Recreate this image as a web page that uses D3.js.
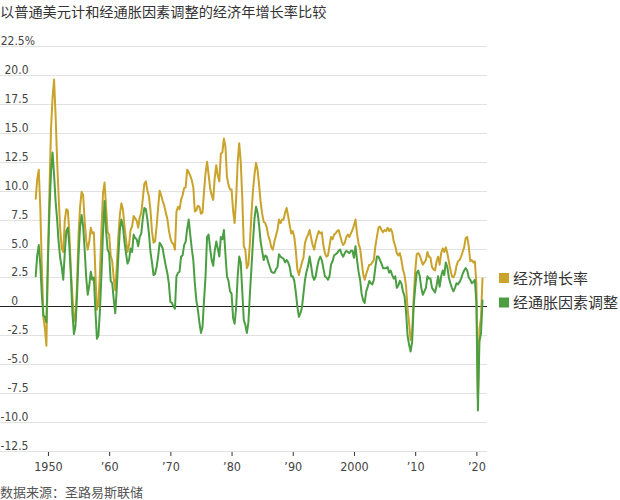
<!DOCTYPE html>
<html><head><meta charset="utf-8">
<script src="https://cdn.jsdelivr.net/npm/d3@7"></script>
<style>body{margin:0;background:#fff}</style>
</head><body><svg id="c" width="620" height="500"></svg>
<script>
const startYear = 1948;
// Year-over-year growth of nominal GDP, quarterly, 1948Q1 .. 2021Q1
const nominalGrowth = [
 9.3, 11.0, 11.8, 8.5,   3.5, -0.9, -1.9, -3.4,   4.3, 10.0, 15.3, 18.0,  19.6, 16.5, 12.6, 9.5,
 6.7, 5.0, 4.7, 7.4,     8.4, 8.3, 6.3, 3.1,      0.9, -1.3, -0.8, 1.8,   6.2, 8.6, 9.9, 9.6,
 7.4, 5.7, 4.9, 5.6,     6.8, 6.3, 6.4, 2.9,      -0.3, 0.3, 2.9, 6.8,    9.8, 10.7, 8.6, 6.4,
 6.2, 4.4, 3.9, 2.4,     1.4, 3.5, 6.0, 7.9,      8.9, 8.4, 7.0, 5.8,     4.7, 5.3, 6.6, 6.9,
 7.8, 7.6, 7.4, 6.8,     7.7, 8.1, 9.3, 10.6,     10.8, 10.0, 9.5, 8.3,   6.5, 5.5, 5.6, 6.9,
 8.5, 10.0, 9.6, 9.1,    8.7, 8.1, 7.6, 6.6,      5.9, 5.5, 5.4, 4.9,     8.2, 8.6, 8.4, 9.2,
 9.6, 10.2, 10.3, 11.8,  11.6, 11.3, 10.9, 10.3,  8.2, 8.3, 8.7, 8.6,     8.0, 8.1, 9.9, 11.5,
 12.5, 11.4, 10.2, 9.6,  9.2, 11.1, 12.2, 11.3,   10.8, 13.2, 13.3, 14.5, 13.8, 11.2, 10.5, 10.1,
 10.1, 8.3, 7.2, 9.3,    12.5, 14.1, 12.5, 9.4,   5.2, 4.9, 3.3, 3.6,     5.5, 8.0, 10.0, 11.4,
 12.4, 11.8, 10.5, 9.0,  8.0, 7.3, 7.2, 6.8,      6.1, 5.7, 5.1, 4.9,     5.6, 6.1, 6.6, 7.5,
 7.2, 7.5, 7.5, 8.1,     8.5, 7.8, 7.0, 6.3,      6.5, 6.0, 4.8, 3.2,     2.7, 3.3, 3.8, 4.2,
 5.5, 5.9, 6.2, 6.6,     5.9, 5.3, 4.9, 5.6,      6.1, 6.5, 6.3, 6.4,     5.3, 4.6, 4.3, 4.4,
 5.2, 6.0, 5.8, 6.2,     6.3, 6.5, 6.6, 6.1,      5.6, 5.3, 5.5, 6.0,     6.2, 6.0, 6.3, 6.6,
 7.0, 7.5, 6.3, 5.4,     5.0, 3.9, 2.8, 2.3,      2.8, 3.2, 3.6, 3.6,     3.8, 4.0, 5.2, 6.0,
 6.8, 6.9, 6.6, 6.4,     6.6, 6.5, 6.8, 6.5,      6.7, 6.4, 5.6, 5.2,     4.6, 4.4, 4.6, 4.0,
 3.2, 2.7, 1.8, -0.1,    -1.4, -2.9, -2.3, 0.6,   3.0, 4.5, 4.6, 4.4,     4.0, 3.6, 3.8, 4.0,
 4.7, 4.3, 4.2, 3.4,     3.2, 3.1, 3.9, 4.3,      3.6, 4.6, 5.0, 4.7,     5.1, 4.6, 3.9, 3.2,
 2.6, 2.5, 2.8, 3.5,     3.9, 4.0, 4.3, 4.7,      5.1, 5.9, 6.0, 5.2,     3.9, 4.0, 3.8, 3.9,
 2.0, -8.0, -2.0, -1.0,  2.4
];
// Year-over-year growth of real (inflation-adjusted) GDP, quarterly, 1948Q1 .. 2021Q1
const realGrowth = [
 2.6, 4.4, 5.3, 3.6,     1.0, -0.8, -0.9, -1.4,   3.9, 8.4, 11.6, 13.3,   11.4, 9.1, 7.5, 5.5,
 4.2, 3.4, 2.3, 4.6,     6.5, 6.8, 5.2, 2.6,      -0.6, -2.4, -1.7, 0.9,  4.4, 6.9, 7.9, 6.9,
 4.9, 2.5, 1.0, 1.8,     3.0, 2.3, 2.5, -0.3,     -2.8, -2.5, -0.3, 2.8,  6.5, 9.1, 6.5, 4.9,
 4.6, 2.2, 2.0, 0.6,     -0.6, 1.6, 4.3, 6.6,     7.5, 6.9, 5.6, 4.6,     3.7, 4.0, 5.0, 4.7,
 6.2, 5.9, 5.8, 5.2,     6.0, 6.3, 7.6, 8.5,      8.4, 7.5, 6.3, 4.7,     3.8, 2.7, 2.8, 3.4,
 4.3, 5.5, 5.3, 5.0,     4.2, 3.5, 2.9, 2.0,      0.4, 0.3, 0.0, -0.2,    2.6, 2.9, 3.0, 4.3,
 4.4, 5.3, 5.6, 6.7,     7.5, 6.2, 5.0, 4.0,      2.0, 0.5, -0.3, -1.4,   -2.3, -1.8, 0.5, 2.6,
 6.0, 6.2, 5.0, 4.0,     3.5, 4.8, 5.6, 5.0,      4.3, 6.0, 5.8, 6.6,     4.5, 2.6, 2.2, 1.3,
 1.1, -1.0, -1.5, -0.1,  2.6, 4.3, 3.8, 1.3,      -1.2, -1.6, -2.3, -1.4, 1.1, 3.3, 5.6, 7.6,
 8.6, 8.1, 7.0, 5.6,     4.8, 4.0, 4.4, 4.3,      3.8, 3.4, 3.0, 2.9,     2.9, 3.2, 3.4, 4.5,
 4.3, 4.2, 4.1, 3.8,     4.0, 3.8, 3.4, 2.6,      2.6, 2.2, 1.2, 0.0,     -0.9, -0.6, -0.1, 1.1,
 2.3, 3.0, 3.5, 4.3,     3.5, 2.6, 2.3, 2.6,      3.4, 4.0, 4.3, 4.0,     3.3, 2.6, 2.5, 2.3,
 2.6, 3.6, 3.9, 4.4,     4.5, 4.6, 4.8, 4.9,      4.5, 4.3, 4.6, 4.8,     4.7, 4.6, 4.8, 4.8,
 4.2, 5.2, 4.0, 3.0,     2.3, 1.1, 0.5, 0.3,      1.3, 1.7, 2.2, 2.0,     1.9, 2.3, 3.4, 4.3,
 4.3, 4.0, 3.7, 3.3,     3.3, 3.3, 3.4, 2.9,      3.1, 2.7, 2.4, 2.6,     1.6, 1.8, 2.2, 2.0,
 1.3, 0.9, -0.4, -2.5,   -3.3, -3.9, -3.1, 0.0,   1.6, 2.9, 3.1, 2.6,     1.6, 1.0, 1.3, 1.6,
 2.6, 2.4, 2.4, 1.6,     1.4, 1.2, 1.8, 2.6,      1.7, 2.6, 3.1, 2.7,     3.8, 3.4, 2.5, 2.0,
 1.6, 1.3, 1.6, 2.0,     1.9, 2.1, 2.4, 2.8,      3.1, 3.3, 3.1, 2.5,     2.3, 2.0, 2.1, 2.3,
 0.3, -9.0, -3.0, -2.4,  0.5
];
const yTickValues = [22.5, 20, 17.5, 15, 12.5, 10, 7.5, 5, 2.5, 0, -2.5, -5, -7.5, -10, -12.5];
const xTickYears = [1950, 1960, 1970, 1980, 1990, 2000, 2010, 2020];
const xTickLabels = ["1950", "’60", "’70", "’80", "’90", "2000", "’10", "’20"];
const seriesNames = ["经济增长率", "经通胀因素调整"];
const seriesColors = ["#c9a32b", "#4b9e42"];
const titleText = "以普通美元计和经通胀因素调整的经济年增长率比较";
const sourceText = "数据来源：圣路易斯联储";

const numFont = "'Liberation Sans Narrow','DejaVu Sans Condensed','Roboto Condensed',Roboto,sans-serif";
const cjkFont = "'Noto Sans CJK SC','Noto Sans',sans-serif";

const svg = d3.select("#c");
svg.append("rect").attr("width", 620).attr("height", 500).attr("fill", "#fff");

const x = d3.scaleLinear().domain([1948, 2021]).range([35.7, 482.5]);
const y = d3.scaleLinear().domain([-12.5, 22.5]).range([451, 46]);
const gridRight = 487;

// title
svg.append("text").attr("x", 0).attr("y", 17).attr("font-family", cjkFont)
  .attr("font-size", 14.2).attr("fill", "#333").text(titleText);

// gridlines
svg.append("g").selectAll("line").data(yTickValues).join("line")
  .attr("x1", 0).attr("x2", gridRight)
  .attr("y1", d => Math.round(y(d)) + 0.5).attr("y2", d => Math.round(y(d)) + 0.5)
  .attr("stroke", d => d === 0 ? "#222" : "#e2e2e2").attr("stroke-width", 1);

// y labels
const fmt = d => d === 22.5 ? "22.5%" : (d === 0 ? "0" : d3.format(".1f")(d).replace("−", "-"));
svg.append("g").selectAll("text").data(yTickValues).join("text")
  .attr("x", d => d === 22.5 ? 35 : (d === 0 ? 18 : 28.5))
  .attr("y", d => Math.round(y(d)) - 1.5)
  .attr("text-anchor", "end")
  .attr("font-family", numFont).attr("font-size", 12).attr("fill", "#444")
  .text(fmt);

// x axis ticks
const xAxis = d3.axisBottom(x).tickValues(xTickYears).tickSize(4).tickPadding(6)
  .tickFormat((d, i) => xTickLabels[i]);
const gx = svg.append("g").attr("transform", `translate(0,${Math.round(y(-12.5)) + 1})`).call(xAxis);
gx.select(".domain").remove();
gx.selectAll(".tick line").attr("stroke", "#333");
gx.selectAll(".tick text").attr("font-family", numFont).attr("font-size", 12.5).attr("fill", "#444");

// lines
const dates = nominalGrowth.map((_, i) => startYear + i / 4);
const line = d3.line().x((d, i) => x(dates[i])).y(d => y(d));
[nominalGrowth, realGrowth].forEach((s, k) => {
  svg.append("path").datum(s).attr("d", line).attr("fill", "none")
    .attr("stroke", seriesColors[k]).attr("stroke-width", 2)
    .attr("stroke-linejoin", "round").attr("stroke-linecap", "round");
});

// legend
const lg = svg.append("g").selectAll("g").data(seriesNames).join("g")
  .attr("transform", (d, i) => `translate(499,${273 + i * 24.5})`);
lg.append("rect").attr("width", 10).attr("height", 10).attr("fill", (d, i) => seriesColors[i]);
lg.append("text").attr("x", 14).attr("y", 10.5).attr("font-family", cjkFont)
  .attr("font-size", 15).attr("fill", "#333").text(d => d);

// source
svg.append("text").attr("x", 0).attr("y", 497).attr("font-family", cjkFont)
  .attr("font-size", 13).attr("fill", "#555").text(sourceText);
</script></body></html>
